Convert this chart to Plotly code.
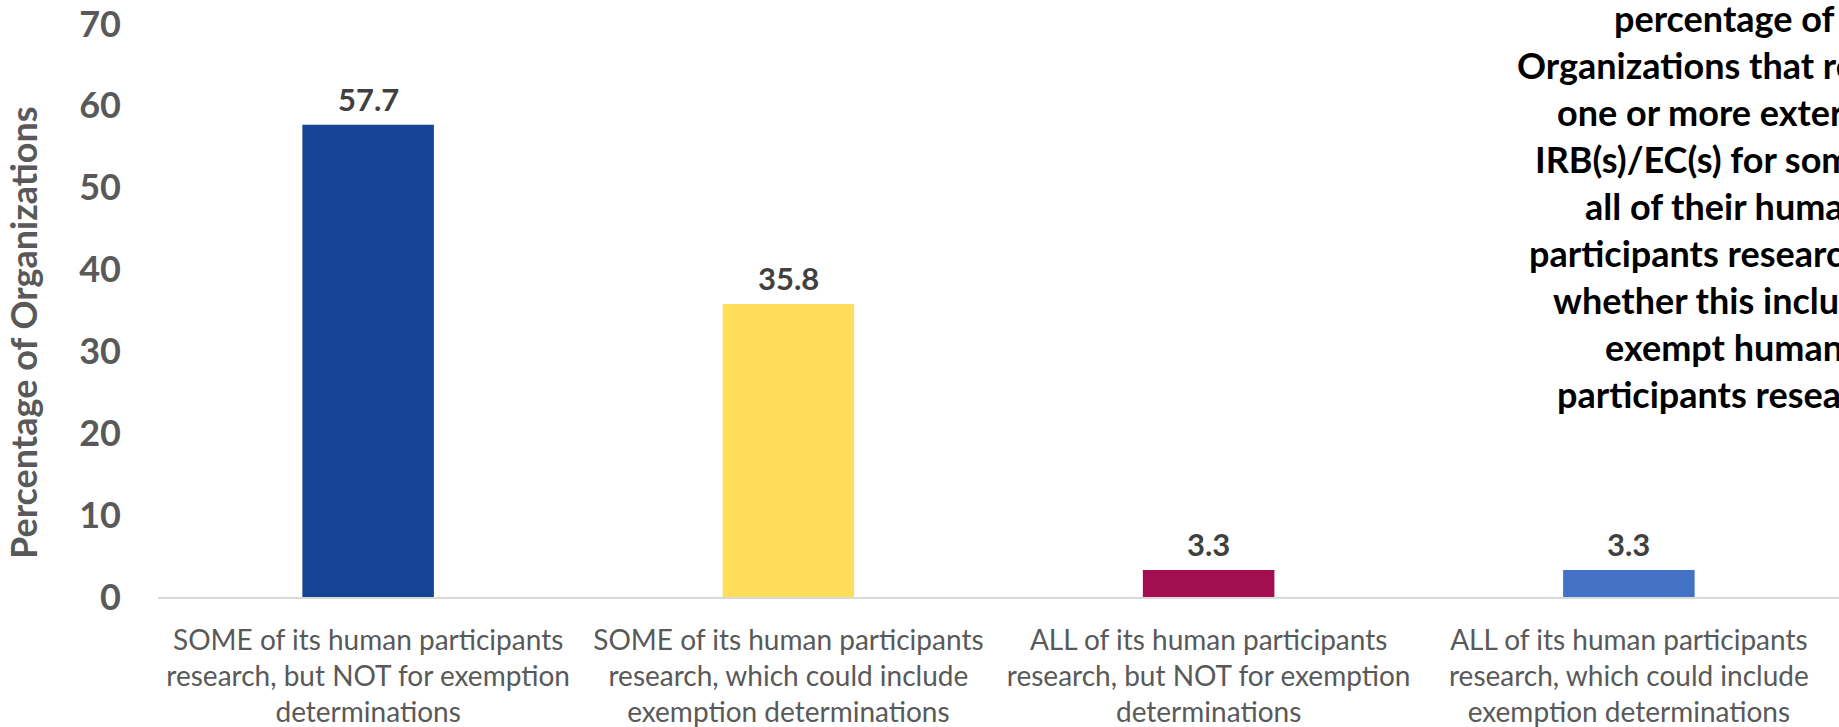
import plotly.graph_objects as go

categories = [
    "SOME of its human participants<br>research, but NOT for exemption<br>determinations",
    "SOME of its human participants<br>research, which could include<br>exemption determinations",
    "ALL of its human participants<br>research, but NOT for exemption<br>determinations",
    "ALL of its human participants<br>research, which could include<br>exemption determinations",
]
values = [57.7, 35.8, 3.3, 3.3]
bar_colors = ["#154496", "#FFDF59", "#A20E50", "#4472C4"]
y_ticks = [0, 10, 20, 30, 40, 50, 60, 70]
y_title = "Percentage of Organizations"
title_lines = [
    "percentage of",
    "Organizations that rely on",
    "one or more external",
    "IRB(s)/EC(s) for some or",
    "all of their human",
    "participants research, by",
    "whether this includes",
    "exempt human",
    "participants research",
]

W, H = 1839, 727
ML, MR, MT, MB = 158, 0, 24, 130
plot_w = W - ML - MR
plot_h = H - MT - MB

fig = go.Figure()
fig.add_trace(go.Bar(
    x=categories, y=values, marker=dict(color=bar_colors, line=dict(width=0)),
    width=0.313, showlegend=False, hoverinfo="x+y",
))

# data labels
for c, v in zip(categories, values):
    fig.add_annotation(x=c, y=v, xref="x", yref="y", text=f"<b>{v:.1f}</b>",
                       showarrow=False, yshift=26, yanchor="middle",
                       font=dict(family="Lato", size=31, color="#404040"))

# y-axis title (placed as rotated text so it sits where the reference has it)
fig.add_annotation(x=(23 - ML) / plot_w, y=(H - MB - 333) / plot_h,
                   xref="paper", yref="paper", text=f"<b>{y_title}</b>",
                   textangle=-90, showarrow=False, xanchor="center", yanchor="middle",
                   font=dict(family="Lato", size=36, color="#595959"))

# title text block at right (runs past the edge, as in the reference)
line_gap = 47
for i, line in enumerate(title_lines):
    ypix = 18 + i * line_gap
    fig.add_annotation(x=(1724 - ML) / plot_w, y=(H - MB - ypix) / plot_h,
                       xref="paper", yref="paper", text=f"<b>{line}</b>",
                       showarrow=False, xanchor="center", yanchor="middle",
                       font=dict(family="Lato", size=36, color="#000000"))

fig.update_layout(
    width=W, height=H,
    margin=dict(l=ML, r=MR, t=MT, b=MB, autoexpand=False),
    plot_bgcolor="white", paper_bgcolor="white",
    bargap=0.687,
    font=dict(family="Lato"),
    xaxis=dict(showgrid=False, showline=True, linecolor="#D9D9D9", linewidth=2,
               ticks="", tickfont=dict(family="Lato", size=28, color="#595959"),
               ticklabelstandoff=17, automargin=False),
    yaxis=dict(range=[0, 70], tickvals=y_ticks, showgrid=False, showline=False,
               zeroline=False, ticks="",
               tickfont=dict(family="Lato", size=36, color="#595959", weight="bold"),
               ticklabelstandoff=36, automargin=False),
)

fig.write_html("out.html", config={"displayModeBar": False},
               post_script="document.body.style.margin='0';document.body.style.overflow='hidden';")
